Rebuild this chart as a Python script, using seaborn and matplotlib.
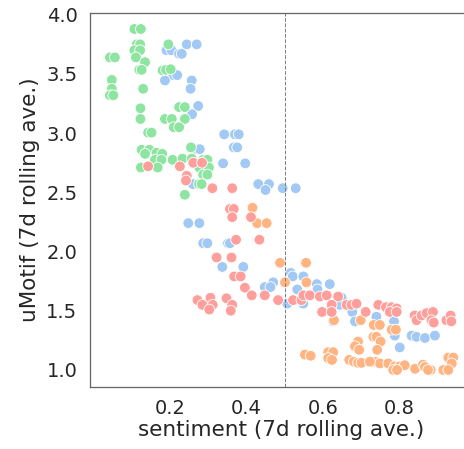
import pandas as pd
import numpy as np
import matplotlib
matplotlib.use("Agg")
import matplotlib.pyplot as plt
import seaborn as sns

# group 1 (blue)
blue_x = [0.244, 0.270, 0.191, 0.204, 0.224, 0.231, 0.209, 0.219, 0.187, 0.257,
          0.254, 0.274, 0.258, 0.342, 0.370, 0.380, 0.367, 0.376, 0.270, 0.278,
          0.339, 0.397, 0.431, 0.459, 0.450, 0.260, 0.495, 0.529, 0.248, 0.277,
          0.287, 0.298, 0.352, 0.357, 0.337, 0.392, 0.516, 0.521, 0.549, 0.470,
          0.448, 0.463, 0.533, 0.584, 0.586, 0.618, 0.507, 0.549, 0.649, 0.644,
          0.677, 0.627, 0.684, 0.740, 0.786, 0.788, 0.801, 0.832, 0.845, 0.867,
          0.893]
blue_y = [3.75, 3.75, 3.70, 3.70, 3.67, 3.67, 3.49, 3.49, 3.445, 3.445,
          3.375, 3.23, 3.16, 2.99, 2.99, 2.99, 2.88, 2.88, 2.865, 2.865,
          2.745, 2.745, 2.57, 2.57, 2.52, 2.57, 2.535, 2.535, 2.24, 2.24,
          2.07, 2.07, 2.07, 2.07, 1.87, 1.87, 1.82, 1.79, 1.79, 1.74,
          1.70, 1.70, 1.68, 1.725, 1.68, 1.725, 1.56, 1.56, 1.61, 1.55,
          1.49, 1.41, 1.41, 1.45, 1.41, 1.29, 1.19, 1.29, 1.28, 1.27,
          1.29]

# group 2 (orange)
orange_x = [0.416, 0.428, 0.453, 0.488, 0.556, 0.501, 0.557, 0.629, 0.699, 0.733,
            0.749, 0.780, 0.791, 0.732, 0.740, 0.751, 0.692, 0.684, 0.695, 0.742,
            0.553, 0.568, 0.614, 0.627, 0.614, 0.624, 0.669, 0.681, 0.692, 0.701,
            0.736, 0.749, 0.771, 0.788, 0.801, 0.814, 0.784, 0.794, 0.841, 0.862,
            0.867, 0.882, 0.915, 0.928, 0.941, 0.937, 0.875, 0.928, 0.723]
orange_y = [2.37, 2.24, 2.24, 1.905, 1.905, 1.74, 1.74, 1.42, 1.42, 1.38,
            1.38, 1.34, 1.34, 1.28, 1.28, 1.24, 1.24, 1.20, 1.17, 1.17,
            1.13, 1.12, 1.15, 1.15, 1.10, 1.085, 1.085, 1.07, 1.06, 1.06,
            1.07, 1.055, 1.055, 1.03, 1.03, 1.04, 1.00, 1.00, 1.01, 1.045,
            1.025, 1.00, 1.00, 1.105, 1.105, 1.055, 1.00, 1.00, 1.07]

# group 3 (green)
green_x = [0.107, 0.124, 0.113, 0.122, 0.107, 0.122, 0.196, 0.043, 0.056, 0.111,
           0.135, 0.120, 0.126, 0.181, 0.190, 0.202, 0.048, 0.048, 0.130, 0.043,
           0.052, 0.123, 0.224, 0.239, 0.123, 0.187, 0.205, 0.239, 0.210, 0.224,
           0.143, 0.152, 0.255, 0.126, 0.146, 0.135, 0.165, 0.180, 0.161, 0.178,
           0.207, 0.233, 0.257, 0.287, 0.298, 0.124, 0.168, 0.277, 0.302, 0.287,
           0.298, 0.276, 0.283, 0.239]
green_y = [3.88, 3.88, 3.75, 3.75, 3.70, 3.70, 3.75, 3.64, 3.64, 3.64,
           3.60, 3.535, 3.535, 3.53, 3.535, 3.54, 3.45, 3.375, 3.375, 3.32,
           3.32, 3.21, 3.22, 3.22, 3.12, 3.12, 3.12, 3.12, 3.05, 3.05,
           3.005, 3.005, 2.88, 2.86, 2.86, 2.825, 2.835, 2.825, 2.775, 2.775,
           2.775, 2.785, 2.785, 2.775, 2.775, 2.71, 2.71, 2.71, 2.71, 2.65,
           2.65, 2.57, 2.57, 2.48]

# group 4 (red)
red_x = [0.143, 0.226, 0.261, 0.284, 0.244, 0.242, 0.311, 0.363, 0.357, 0.367,
         0.363, 0.412, 0.373, 0.434, 0.322, 0.361, 0.368, 0.385, 0.396, 0.414,
         0.448, 0.272, 0.306, 0.285, 0.312, 0.303, 0.348, 0.363, 0.359, 0.483,
         0.522, 0.544, 0.549, 0.566, 0.592, 0.610, 0.640, 0.623, 0.662, 0.675,
         0.688, 0.598, 0.623, 0.712, 0.745, 0.765, 0.780, 0.793, 0.775, 0.793,
         0.840, 0.845, 0.858, 0.871, 0.888, 0.884, 0.890, 0.923, 0.934, 0.936]
red_y = [2.72, 2.72, 2.75, 2.75, 2.64, 2.60, 2.535, 2.535, 2.36, 2.36,
         2.29, 2.29, 2.10, 2.10, 1.95, 1.95, 1.79, 1.79, 1.695, 1.63,
         1.63, 1.59, 1.61, 1.55, 1.55, 1.51, 1.605, 1.55, 1.50, 1.59,
         1.59, 1.59, 1.63, 1.63, 1.62, 1.63, 1.62, 1.55, 1.55, 1.55,
         1.56, 1.49, 1.49, 1.49, 1.55, 1.53, 1.53, 1.52, 1.49, 1.49,
         1.46, 1.42, 1.46, 1.48, 1.49, 1.42, 1.40, 1.42, 1.46, 1.41]

groups = ["A", "B", "C", "D"]

df = pd.concat([
    pd.DataFrame({"sentiment": blue_x, "umotif": blue_y, "group": groups[0]}),
    pd.DataFrame({"sentiment": orange_x, "umotif": orange_y, "group": groups[1]}),
    pd.DataFrame({"sentiment": green_x, "umotif": green_y, "group": groups[2]}),
    pd.DataFrame({"sentiment": red_x, "umotif": red_y, "group": groups[3]}),
], ignore_index=True)

sns.set_theme(style="white", context="talk", palette="pastel",
              rc={"axes.edgecolor": "0.4", "axes.linewidth": 1.3,
                  "xtick.labelsize": 19.5, "ytick.labelsize": 19.5,
                  "axes.labelsize": 21.5})

fig = plt.figure(figsize=(464 / 72, 449 / 72), dpi=72)
ax = fig.add_axes([90 / 464, 62 / 449, 382 / 464, 374 / 449])

sns.scatterplot(data=df, x="sentiment", y="umotif", hue="group",
                hue_order=groups, palette="pastel", s=115, legend=False, ax=ax)
ax.axvline(0.5, color="grey", linestyle="--", linewidth=1)

ax.set_xlim(-0.009, 0.99)
ax.set_ylim(0.856, 4.015)
ax.set_xticks([0.2, 0.4, 0.6, 0.8])
ax.set_xlabel("sentiment (7d rolling ave.)", labelpad=2)
ax.set_ylabel("uMotif (7d rolling ave.)", labelpad=6)

fig.savefig("out.png", dpi=72)
